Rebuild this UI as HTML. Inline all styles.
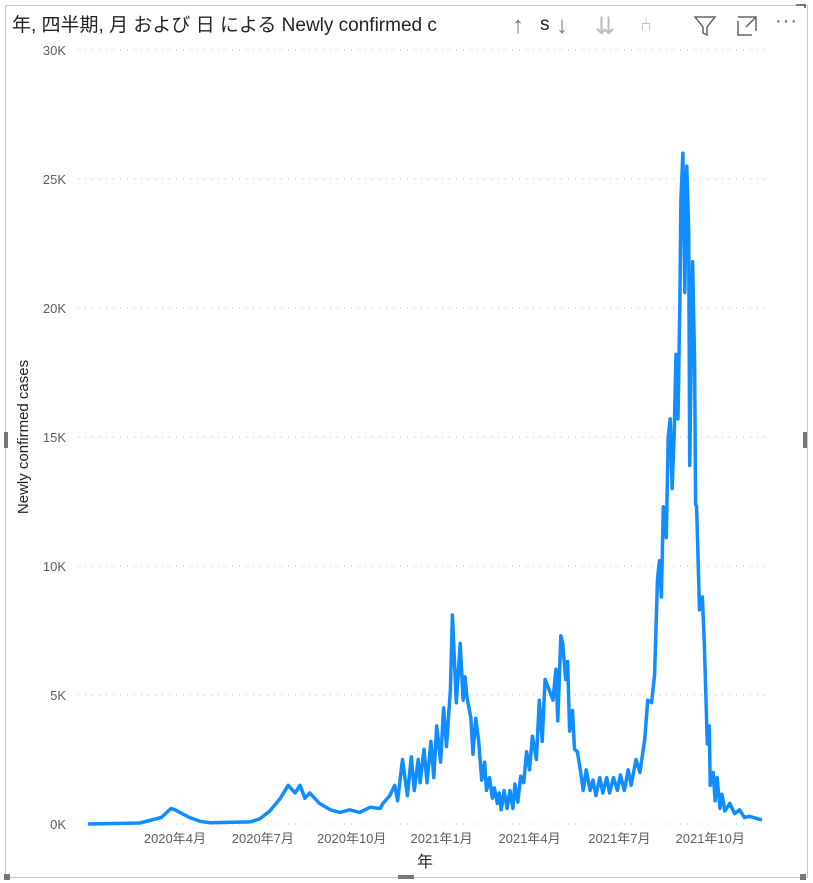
<!DOCTYPE html>
<html><head><meta charset="utf-8"><style>
body{margin:0;width:813px;height:883px;background:#fff;overflow:hidden;font-family:"Liberation Sans","Noto Sans CJK JP",sans-serif}
#frame{position:absolute;left:5px;top:5px;width:801px;height:871px;border:1px solid #c8c8c8}
.h{position:absolute;background:#777}
#title{position:absolute;left:12px;top:10px;font-size:19px;color:#252423;white-space:nowrap}
.ic{position:absolute;top:12px;font-size:24px;color:#777}
</style></head><body>
<div id="frame"></div>
<div class="h" style="left:4px;top:432px;width:4px;height:16px"></div>
<div class="h" style="left:803px;top:432px;width:4px;height:16px"></div>
<div class="h" style="left:398px;top:875px;width:16px;height:4px"></div>
<div class="h" style="left:4px;top:874px;width:6px;height:6px"></div>
<div class="h" style="left:800px;top:874px;width:6px;height:6px"></div>
<div class="h" style="left:796px;top:4px;width:10px;height:4px"></div>
<div id="title">年, 四半期, 月 および 日 による Newly confirmed c</div>
<div style="position:absolute;left:508px;top:6px;width:296px;height:36px;background:#fff"></div>
<div class="ic" style="left:512px">↑</div>
<div style="position:absolute;left:540px;top:14px;font-size:19px;color:#252423">s</div>
<div class="ic" style="left:556px">↓</div>
<div class="ic" style="left:595px;color:#bbb">⇊</div>
<div class="ic" style="left:640px;color:#bbb;font-size:20px;top:14px">⑃</div>
<svg style="position:absolute;left:693px;top:14px" width="24" height="24"><path d="M2 3H22L14 13V21L10 19V13Z" fill="none" stroke="#666" stroke-width="1.5"/></svg>
<svg style="position:absolute;left:735px;top:14px" width="24" height="24"><path d="M3 7V21H17M3 3H21V17M11 13L21 3M15 3H21V9" fill="none" stroke="#666" stroke-width="1.5"/></svg>
<div style="position:absolute;left:775px;top:10px;font-size:20px;color:#666;letter-spacing:1px">···</div>
<svg id="chart" width="813" height="883" style="position:absolute;left:0;top:0;pointer-events:none"></svg>
<script>
const yTicks=[0,5000,10000,15000,20000,25000,30000];
const yTickLabels=["0K","5K","10K","15K","20K","25K","30K"];
const xTickDays=[89,179,270,362,452,544,637];
const xTickLabels=["2020年4月","2020年7月","2020年10月","2021年1月","2021年4月","2021年7月","2021年10月"];
const days=[0,53,75,85,89,94,104,115,125,166,176,186,197,205,212,217,222,227,237,248,258,268,278,289,299,302,309,314,317,322,327,331,334,338,340,344,347,351,354,357,361,364,367,371,373,377,381,384,386,388,392,394,397,400,403,406,408,411,414,416,419,421,423,426,429,432,435,437,440,443,446,449,452,455,459,462,465,468,472,476,479,481,484,486,489,491,493,496,498,501,504,507,510,514,517,520,524,527,531,534,538,542,545,549,553,556,561,565,570,573,577,580,583,585,587,589,592,594,596,598,600,602,604,606,607,609,611,613,615,616,619,621,622,623,626,629,631,634,636,637,640,642,644,647,649,652,657,662,667,672,677,690];
const cases=[0,40,250,600,550,450,250,100,50,80,200,500,1000,1500,1200,1500,1000,1200,800,550,450,550,450,650,600,800,1100,1500,900,2500,1100,2600,1300,2500,1600,2900,1600,3200,1800,3800,2400,4500,3000,5200,8100,4700,7000,4800,5700,4900,4100,2700,4100,3200,1700,2400,1300,1800,1000,1400,800,1200,550,1300,600,1300,600,1550,850,1850,1600,2800,2100,3400,2500,4800,3200,5600,5200,4800,6000,4000,7300,7000,5600,6300,3600,4400,2900,2800,2100,1300,2100,1300,1700,1100,1800,1200,1800,1200,1800,1300,1900,1300,2100,1500,2500,2000,3300,4800,4700,5800,9500,10200,8800,12300,11100,15000,15700,13000,15000,18200,15700,20300,24200,26000,20600,25500,23000,13900,21800,17900,12400,12300,8300,8800,6900,3100,3800,1500,2000,900,1800,600,1150,500,800,400,550,250,300,150,150];
const NS='http://www.w3.org/2000/svg';
const svg=document.getElementById('chart');
const X0=88,X1=762,D1=690,Y0=824,Y1=50,V1=30000;
const xs=d=>X0+(X1-X0)*d/D1;
const ys=v=>Y0-(Y0-Y1)*v/V1;
function mk(t,a){const e=document.createElementNS(NS,t);for(const k in a)e.setAttribute(k,a[k]);svg.appendChild(e);return e;}
yTicks.forEach((v,i)=>{
  const g=mk('line',{x1:78,x2:770,y1:ys(v),y2:ys(v),stroke:'#c8c8c8','stroke-dasharray':'1 6','stroke-width':1.2});
  
  
  const t=mk('text',{x:66,y:ys(v)+5,'text-anchor':'end','font-size':13,fill:'#605e5c'});
  t.textContent=yTickLabels[i];
  
  
});
xTickDays.forEach((d,i)=>{
  const t=mk('text',{x:xs(d),y:843,'text-anchor':'middle','font-size':13,fill:'#605e5c'});
  t.textContent=xTickLabels[i];
  
  
});
const n=Math.min(days.length,cases.length);
let dstr='';
for(let i=0;i<n;i++){dstr+=(i?'L':'M')+xs(days[i]).toFixed(1)+' '+ys(cases[i]).toFixed(1);}
const p=mk('path',{d:dstr,fill:'none',stroke:'#118dff','stroke-width':3.5,'stroke-linejoin':'round'});


const xt=mk('text',{x:425,y:867,'text-anchor':'middle','font-size':16,fill:'#252423'});
xt.textContent='年';


const yt=mk('text',{x:0,y:0,'text-anchor':'middle','font-size':15,fill:'#252423',transform:'translate(28,437) rotate(-90)'});
yt.textContent='Newly confirmed cases';


</script>
</body></html>
